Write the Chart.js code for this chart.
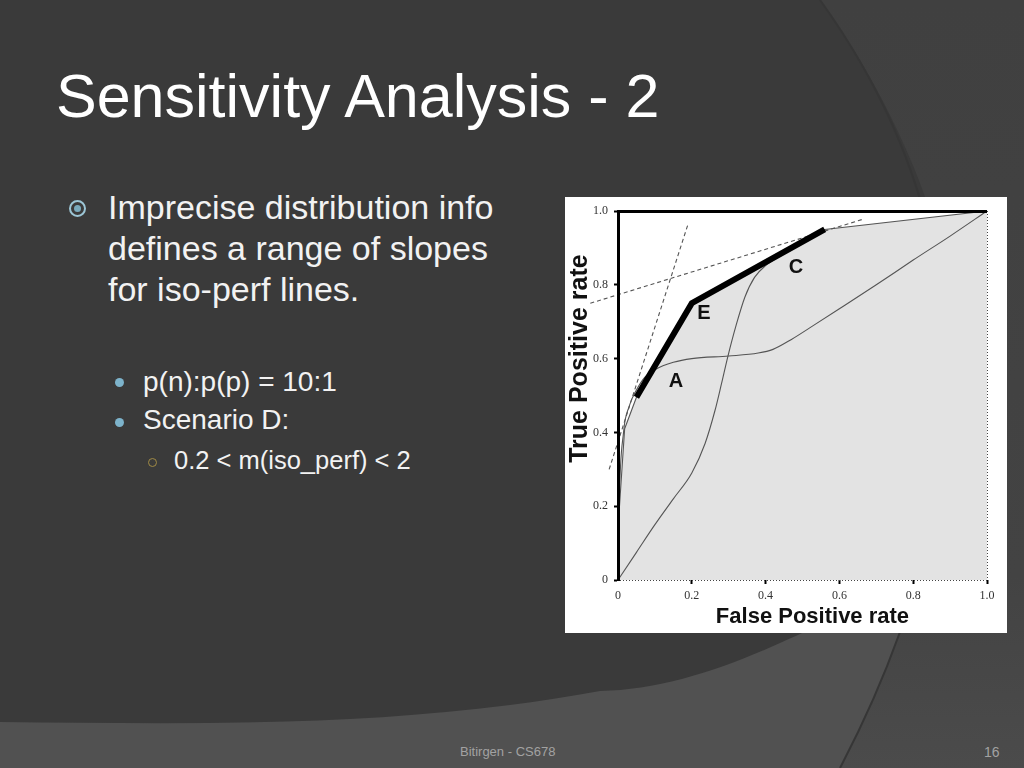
<!DOCTYPE html>
<html>
<head>
<meta charset="utf-8">
<script src="https://cdn.jsdelivr.net/npm/chart.js@4.4.0/dist/chart.umd.min.js"></script>
<style>
  html, body { margin: 0; padding: 0; }
  body { width: 1024px; height: 768px; position: relative; overflow: hidden; background: #515151; font-family: "Liberation Sans", Arial, sans-serif; }
  #bg { position: absolute; left: 0; top: 0; }
  .txt { position: absolute; color: #f2f2f2; white-space: nowrap; }
  #title { left: 56px; top: 60px; font-size: 61px; line-height: 72px; color: #fff; }
  #main { left: 108px; top: 187px; font-size: 34px; line-height: 41px; }
  #sub1 { left: 143px; top: 363px; font-size: 28px; line-height: 38px; }
  #sub2 { left: 174px; top: 445px; font-size: 25.5px; line-height: 30px; }
  .dot { position: absolute; border-radius: 50%; }
  #chartBox { position: absolute; left: 565px; top: 197px; width: 442px; height: 436px; background: #fff; }
  .foot { position: absolute; color: #a2a2a2; font-size: 13px; top: 744px; }
</style>
</head>
<body>
<svg id="bg" width="1024" height="768">
  <defs>
    <linearGradient id="rg" x1="0" y1="0" x2="0" y2="1">
      <stop offset="0" stop-color="#404040"/>
      <stop offset="0.75" stop-color="#434343"/>
      <stop offset="1" stop-color="#4b4b4b"/>
    </linearGradient>
  </defs>
  <path d="M820,0 L1024,0 L1024,768 L840,768 C 970,520 1000,250 820,0 Z" fill="url(#rg)"/>
  <path d="M0,0 L820,0 C 1000,250 975,480 930,560 C 880,600 820,625 780,643 C 720,670 660,690 600,691 C 400,728 200,724 0,722 Z" fill="#3a3a3a"/>
  <path d="M820,0 C 1000,250 970,520 840,768" fill="none" stroke="#363636" stroke-width="2"/>
</svg>

<div id="title" class="txt">Sensitivity Analysis - 2</div>

<div class="dot" style="left:69px;top:200px;width:13px;height:13px;border:2px solid #9cc6d6;"></div>
<div class="dot" style="left:74px;top:205px;width:7px;height:7px;background:#79aabd;"></div>
<div id="main" class="txt">Imprecise distribution info<br>defines a range of slopes<br>for iso-perf lines.</div>

<div class="dot" style="left:115px;top:378px;width:9px;height:9px;background:#7db3cb;"></div>
<div class="dot" style="left:115px;top:418px;width:9px;height:9px;background:#7db3cb;"></div>
<div id="sub1" class="txt">p(n):p(p) = 10:1<br>Scenario D:</div>

<div class="dot" style="left:148px;top:458px;width:7px;height:7px;border:1.5px solid #a08a45;"></div>
<div id="sub2" class="txt">0.2 &lt; m(iso_perf) &lt; 2</div>

<div id="chartBox"><canvas id="roc" width="442" height="436"></canvas></div>

<div class="foot" style="left:460px;">Bitirgen - CS678</div>
<div class="foot" style="left:984px;font-size:14px;">16</div>

<script>
// axis ticks
const tickValues = [0, 0.2, 0.4, 0.6, 0.8, 1.0];
const xTitle = 'False Positive rate';
const yTitle = 'True Positive rate';

// ROC convex hull (thin part, filled underneath)
const hullX = [0, 0.004, 0.018, 0.05, 0.2, 0.56, 1.0];
const hullY = [0, 0.2, 0.41, 0.495, 0.75, 0.95, 1.0];

// thick hull segment A - E - C
const thickX = [0.05, 0.2, 0.56];
const thickY = [0.495, 0.75, 0.95];

// classifier A curve
const curveAX = [0, 0.003, 0.015, 0.03, 0.05, 0.073, 0.1, 0.15, 0.2, 0.3, 0.38, 0.42, 0.47, 0.53, 0.6, 0.7, 0.8, 0.9, 1.0];
const curveAY = [0, 0.2, 0.4, 0.47, 0.515, 0.55, 0.57, 0.59, 0.6, 0.607, 0.615, 0.625, 0.652, 0.69, 0.735, 0.8, 0.867, 0.932, 1.0];

// classifier C curve
const curveCX = [0, 0.05, 0.1, 0.15, 0.2, 0.236, 0.263, 0.28, 0.298, 0.32, 0.344, 0.37, 0.4, 0.45, 0.5, 0.56];
const curveCY = [0, 0.075, 0.15, 0.22, 0.29, 0.37, 0.46, 0.53, 0.607, 0.69, 0.767, 0.82, 0.852, 0.884, 0.916, 0.95];

// iso-performance lines (dashed)
const isoSteepX = [-0.024, 0.19];
const isoSteepY = [0.30, 0.965];
const isoFlatX = [-0.075, 0.665];
const isoFlatY = [0.75, 0.978];

// point labels
const labelText = ['A', 'E', 'C'];
const labelX = [0.157, 0.233, 0.482];
const labelY = [0.539, 0.721, 0.848];

const toPoints = (xs, ys) => xs.map((x, i) => ({ x: x, y: ys[i] }));

// letters on the hull + the two axis titles (placed like the original figure)
const figureText = {
    id: 'figureText',
    afterDraw(chart) {
        const ctx = chart.ctx;
        const xs = chart.scales.x, ys = chart.scales.y;
        ctx.save();
        ctx.fillStyle = '#111';
        ctx.textAlign = 'center';
        ctx.textBaseline = 'middle';
        ctx.font = 'bold 20px "Liberation Sans", Arial, sans-serif';
        labelText.forEach((t, i) => {
            ctx.fillText(t, xs.getPixelForValue(labelX[i]), ys.getPixelForValue(labelY[i]));
        });

        ctx.font = 'bold 22px "Liberation Sans", Arial, sans-serif';
        ctx.fillText(xTitle, xs.getPixelForValue(0.527), xs.bottom - 16);

        ctx.translate(ys.left + 15, ys.getPixelForValue(0.6));
        ctx.rotate(-Math.PI / 2);
        ctx.font = 'bold 25px "Liberation Sans", Arial, sans-serif';
        ctx.fillText(yTitle, 0, 0);
        ctx.restore();
    }
};

const thin = { borderColor: '#555', borderWidth: 1.1, fill: false, clip: false };

new Chart(document.getElementById('roc'), {
    type: 'line',
    data: {
        datasets: [
            { data: toPoints(thickX, thickY), borderColor: '#000', borderWidth: 6, borderJoinStyle: 'miter', fill: false },
            Object.assign({ data: toPoints(isoSteepX, isoSteepY), borderDash: [4, 3] }, thin),
            Object.assign({ data: toPoints(isoFlatX, isoFlatY), borderDash: [4, 3] }, thin),
            Object.assign({ data: toPoints(curveAX, curveAY), cubicInterpolationMode: 'monotone' }, thin),
            Object.assign({ data: toPoints(curveCX, curveCY), cubicInterpolationMode: 'monotone' }, thin),
            { data: toPoints(hullX, hullY), borderColor: '#555', borderWidth: 1.1, fill: 'origin', backgroundColor: '#e3e3e3' }
        ]
    },
    options: {
        responsive: false,
        animation: false,
        layout: { padding: { top: 14, right: 20, left: 0, bottom: 0 } },
        elements: { point: { radius: 0 }, line: { tension: 0 } },
        plugins: { legend: { display: false }, tooltip: { enabled: false } },
        scales: {
            x: {
                type: 'linear',
                min: 0,
                max: 1,
                afterFit(scale) { scale.height = 53; },
                afterBuildTicks(scale) { scale.ticks = tickValues.map(v => ({ value: v })); },
                grid: {
                    z: 1,
                    color: c => (c.tick && c.tick.value === 1) ? '#444' : 'transparent',
                    lineWidth: 1,
                    tickColor: c => (c.tick && c.tick.value === 0) ? 'transparent' : '#000',
                    tickWidth: 2,
                    tickLength: 4
                },
                border: { display: false, dash: [1, 2] },
                ticks: {
                    padding: 5,
                    color: '#333',
                    font: { family: '"Liberation Serif", "Times New Roman", serif', size: 12 },
                    callback: v => v === 0 ? '0' : v.toFixed(1)
                }
            },
            y: {
                type: 'linear',
                min: 0,
                max: 1,
                afterFit(scale) { scale.width = 53; },
                afterBuildTicks(scale) { scale.ticks = tickValues.map(v => ({ value: v })); },
                grid: {
                    z: 1,
                    color: c => (c.tick && c.tick.value === 1) ? '#000' : (c.tick && c.tick.value === 0) ? '#444' : 'transparent',
                    lineWidth: c => (c.tick && c.tick.value === 1) ? 3 : 1,
                    tickColor: '#000',
                    tickWidth: 2,
                    tickLength: 4
                },
                border: {
                    display: true,
                    color: '#000',
                    width: 3,
                    z: 1,
                    dash: c => (c.tick && c.tick.value === 0) ? [1, 2] : []
                },
                ticks: {
                    padding: 6,
                    color: '#333',
                    font: { family: '"Liberation Serif", "Times New Roman", serif', size: 12 },
                    callback: v => v === 0 ? '0' : v.toFixed(1)
                }
            }
        }
    },
    plugins: [figureText]
});
</script>
</body>
</html>
